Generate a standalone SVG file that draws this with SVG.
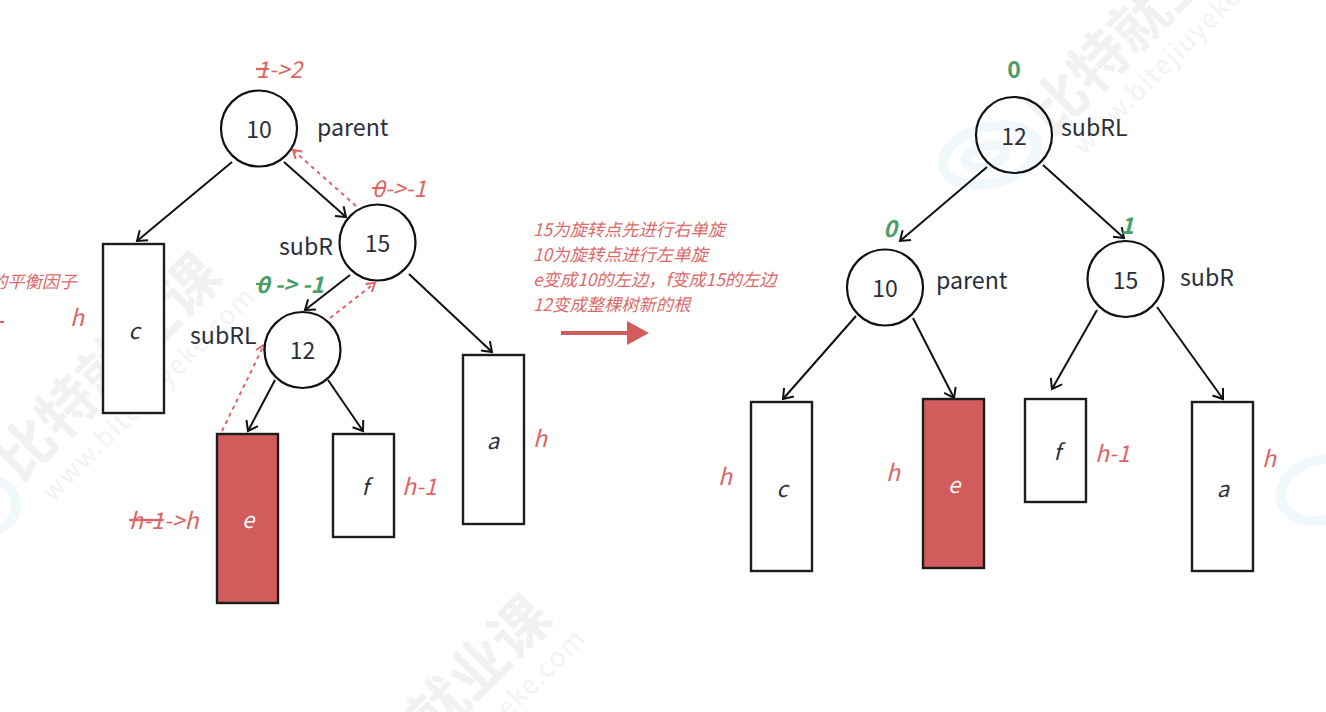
<svg xmlns="http://www.w3.org/2000/svg" width="1326" height="712" viewBox="0 0 1326 712">
<style>
text{font-family:"Noto Sans CJK SC","Noto Sans",sans-serif}
.n{fill:#fff;stroke:#111;stroke-width:2.200}
.n2{fill:none;stroke:#111;stroke-width:2.200}
.r{fill:#fff;stroke:#1c1c1c;stroke-width:2.400}
.re{fill:#d25c5c;stroke:#1c1c1c;stroke-width:2.400}
.t{font-size:23px;fill:#2b303b;text-anchor:middle}
.l{font-size:23.200px;fill:#2b303b}
.i{font-size:22px;font-style:italic;fill:#2b303b;text-anchor:middle}
.w{font-size:22px;font-style:italic;fill:#fff;text-anchor:middle}
.h{font-size:23px;font-style:italic;fill:#dc6464}
.g{font-size:23px;font-style:italic;font-weight:700;fill:#4c9e68}
.s{font-size:17.300px;font-style:italic;fill:#dc6a6a}
.c{fill:none;stroke:#111;stroke-width:2;marker-end:url(#a)}
.d{fill:none;stroke:#e06666;stroke-width:2;stroke-dasharray:4 4;marker-end:url(#b)}
.wm{font-size:58px;font-weight:700;fill:#f1f1f1}
.wu{font-size:26px;fill:#f3f3f3;letter-spacing:1.500px}
.lg{fill:none;stroke:#f0f8fc;stroke-width:10}
.st{text-decoration:line-through}
</style>
<defs>
<marker id="a" markerUnits="userSpaceOnUse" markerWidth="18" markerHeight="18" refX="12" refY="9" orient="auto"><path d="M3 2.500L12 9L3 15.500" fill="none" stroke="#111" stroke-width="2"/></marker>
<marker id="b" markerUnits="userSpaceOnUse" markerWidth="16" markerHeight="16" refX="12" refY="8" orient="auto"><path d="M4 3L12 8L4 13" fill="none" stroke="#e06666" stroke-width="2"/></marker>
</defs>
<rect width="1326" height="712" fill="#fff"/>
<g id="watermark">
<g transform="translate(20,484) rotate(-45)"><text class="wm" x="0" y="0">比特就业课</text><text class="wu" x="10" y="36">www.bitejiuyeke.com</text></g>
<g transform="translate(350,826) rotate(-45)"><text class="wm" x="0" y="0">比特就业课</text><text class="wu" x="10" y="36">www.bitejiuyeke.com</text></g>
<g transform="translate(1052,138) rotate(-45)"><text class="wm" x="0" y="0">比特就业课</text><text class="wu" x="10" y="36">www.bitejiuyeke.com</text></g>
<g transform="rotate(-15 990 155)"><ellipse class="lg" cx="990" cy="155" rx="48" ry="28"/><ellipse class="lg" cx="985" cy="155" rx="20" ry="10"/></g>
<g transform="rotate(-15 -8 505)"><ellipse class="lg" cx="-8" cy="505" rx="24" ry="25"/></g>
<g transform="rotate(-15 1322 490)"><ellipse class="lg" cx="1322" cy="490" rx="42" ry="30"/></g>
</g>
<g id="connectors">
<path class="c" d="M232 162L137 241"/>
<path class="c" d="M284 162L346 217"/>
<path class="c" d="M350 275L305 310"/>
<path class="c" d="M409 274L492 352"/>
<path class="c" d="M275 380L248 431"/>
<path class="c" d="M328 380L363 431"/>
<path class="d" d="M356 206L293 150"/>
<path class="d" d="M330 318L375 283"/>
<path class="d" d="M222 431L264 345"/>
<path class="c" d="M987 167L900 241"/>
<path class="c" d="M1043 165L1124 238"/>
<path class="c" d="M856 316L783 399"/>
<path class="c" d="M913 318L954 398"/>
<path class="c" d="M1097 310L1052 389"/>
<path class="c" d="M1157 307L1223 399"/>
</g>
<g id="L10"><circle class="n" cx="259" cy="128.500" r="38"/><text class="t" x="259" y="138">10</text><text class="l" x="317" y="136">parent</text><text class="h" x="256" y="78"><tspan class="st">1</tspan>-&gt;2</text></g>
<g id="L15"><circle class="n" cx="377.500" cy="242.500" r="38"/><text class="t" x="377.500" y="252">15</text><text class="l" x="279" y="255">subR</text><text class="h" x="372" y="197"><tspan class="st">0</tspan>-&gt;-1</text></g>
<g id="L12"><circle class="n" cx="302.500" cy="350" r="38"/><text class="t" x="302.500" y="359">12</text><text class="l" x="190" y="344">subRL</text><text class="g" x="256" y="293"><tspan class="st">0</tspan> -&gt; -1</text></g>
<g id="Lc"><rect class="r" x="103" y="244" width="61" height="169"/><text class="i" x="134" y="339">c</text><text class="h" x="70" y="326">h</text></g>
<g id="Le"><rect class="re" x="217" y="434" width="61" height="169"/><text class="w" x="248" y="528">e</text><text class="h" x="129" y="529"><tspan class="st">h-1</tspan>-&gt;h</text></g>
<g id="Lf"><rect class="r" x="333" y="434" width="61" height="103"/><text class="i" x="365" y="495">f</text><text class="h" x="402" y="495">h-1</text></g>
<g id="La"><rect class="r" x="463" y="355" width="61" height="169"/><text class="i" x="493" y="449">a</text><text class="h" x="533" y="447">h</text></g>
<g id="note-left"><text class="s" x="-10" y="288">的平衡因子</text><path d="M-4 322L4 322" stroke="#dc6464" stroke-width="2"/></g>
<g id="note-mid">
<text class="s" x="533" y="236">15为旋转点先进行右单旋</text>
<text class="s" x="533" y="261">10为旋转点进行左单旋</text>
<text class="s" x="533" y="286">e变成10的左边，f变成15的左边</text>
<text class="s" x="533" y="311">12变成整棵树新的根</text>
</g>
<g id="big-arrow"><path d="M561 333L628 333" stroke="#d25c5c" stroke-width="4"/><path d="M627 321L649 333L627 345Z" fill="#d25c5c"/></g>
<g id="R12"><circle class="n2" cx="1014" cy="135" r="38"/><text class="t" x="1014" y="145">12</text><text class="l" x="1061" y="136">subRL</text><text class="g" x="1014" y="78" text-anchor="middle" style="font-style:normal">0</text></g>
<g id="R10"><circle class="n" cx="885" cy="287.500" r="38"/><text class="t" x="885" y="297">10</text><text class="l" x="936" y="289">parent</text><text class="g" x="890" y="237" text-anchor="middle">0</text></g>
<g id="R15"><circle class="n" cx="1125.500" cy="279" r="38"/><text class="t" x="1125.500" y="289">15</text><text class="l" x="1180" y="286">subR</text><text class="g" x="1127" y="234" text-anchor="middle">1</text></g>
<g id="Rc"><rect class="r" x="751" y="402" width="61" height="169"/><text class="i" x="782" y="497">c</text><text class="h" x="718" y="485">h</text></g>
<g id="Re"><rect class="re" x="923" y="399" width="61" height="169"/><text class="w" x="954" y="493">e</text><text class="h" x="886" y="481">h</text></g>
<g id="Rf"><rect class="r" x="1025" y="399" width="61" height="103"/><text class="i" x="1057" y="460">f</text><text class="h" x="1095" y="462">h-1</text></g>
<g id="Ra"><rect class="r" x="1192" y="402" width="61" height="169"/><text class="i" x="1223" y="497">a</text><text class="h" x="1262" y="467">h</text></g>
</svg>
